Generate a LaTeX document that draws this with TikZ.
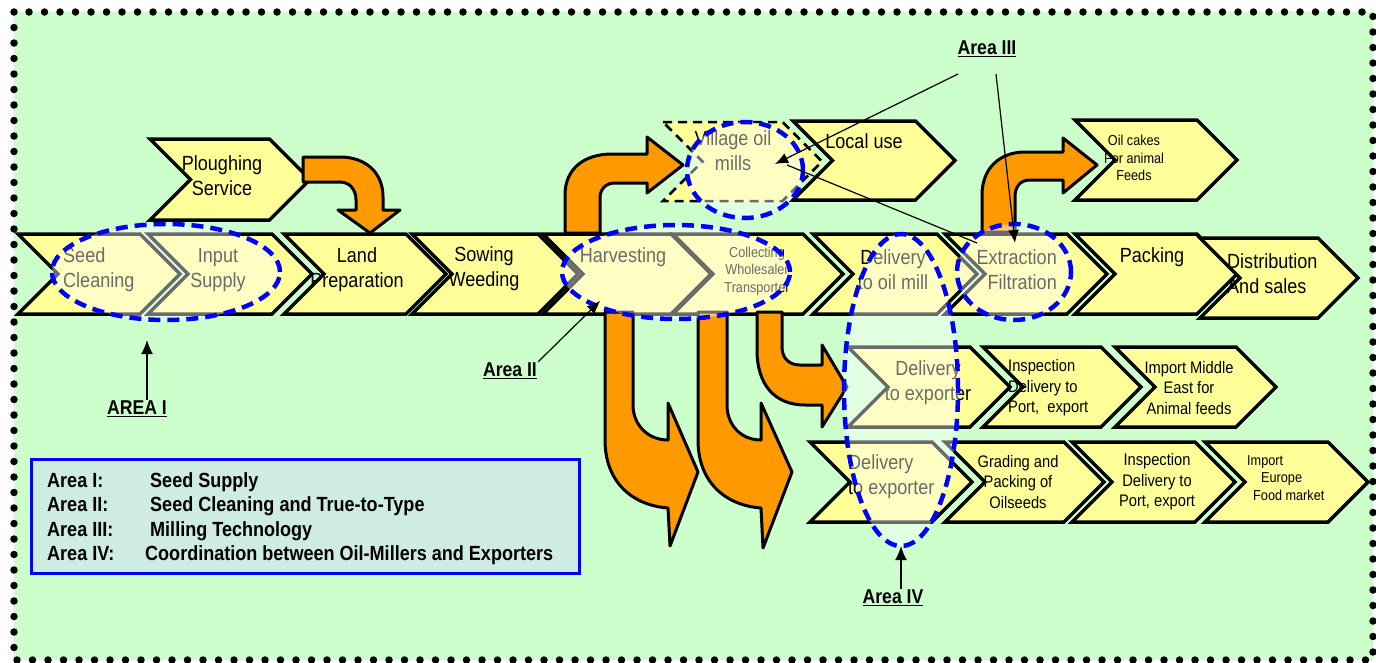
\documentclass[tikz,border=0pt]{standalone}
\usepackage{fontspec}
\setmainfont[FakeStretch=0.88]{Liberation Sans}
\usetikzlibrary{arrows.meta,calc}
\definecolor{bggreen}{RGB}{204,255,204}
\definecolor{chevyellow}{RGB}{255,255,153}
\definecolor{arrorange}{RGB}{255,153,0}
\definecolor{areablue}{RGB}{0,0,255}
\definecolor{legfill}{RGB}{206,236,226}
\newcommand{\chev}[5][]{%
  \pgfmathsetmacro{\chvm}{(#3+#5)/2}%
  \pgfmathsetmacro{\chvd}{(#5-#3)/2}%
  \draw[chev,#1] (#2,#3) -- ({#4-\chvd},#3) -- (#4,\chvm) -- ({#4-\chvd},#5) -- (#2,#5) -- ({#2+\chvd},\chvm) -- cycle;}
\begin{document}
\begin{tikzpicture}[x=1pt,y=-1pt,
  chev/.style={draw=black, line width=3.5pt, fill=chevyellow, line join=miter},
  oarrow/.style={draw=black, line width=3pt, fill=arrorange, line join=round},
  areaell/.style={draw=areablue, line width=4.5pt, dash pattern=on 12pt off 7pt, fill=white, fill opacity=0.42},
  big/.style={font=\fontsize{20.5}{25}\selectfont, align=center, inner sep=0pt},
  mid/.style={font=\fontsize{16.7}{20.5}\selectfont, align=center, inner sep=0pt},
  small/.style={font=\fontsize{14.4}{17.5}\selectfont, align=center, inner sep=0pt},
  lab/.style={font=\bfseries\fontsize{20}{24}\selectfont, inner sep=1pt},
  leg/.style={font=\bfseries\fontsize{20.5}{24.5}\selectfont, anchor=base west, inner sep=0pt},
  arr/.style={draw=black, line width=1.8pt, -{Latex[length=14pt,width=12pt]}},
  thinarr/.style={draw=black, line width=1.2pt, -{Latex[length=13pt,width=11pt]}}]
\useasboundingbox (0,0) rectangle (1376,662);
% background
\fill[bggreen] (14,12) rectangle (1373,660);
\draw[line width=7.5pt, dash pattern=on 0pt off 15.5pt, line cap=round] (14,12) rectangle (1373,660);

% chevrons - top row
\chev{150}{139}{310}{220}
\chev[dash pattern=on 9pt off 6pt, line width=2.5pt]{663}{122}{822}{201}
\chev{793}{121}{955}{200}
\chev{1075}{120}{1237}{200}
% main row
\chev{18}{234}{180}{314}
\chev{148}{234}{312}{314}
\chev{284}{234}{446}{314}
\chev{412}{234}{578}{314}
\chev{543}{234}{711}{314}
\chev{673}{234}{843}{314}
\chev{813}{234}{977}{314}
\chev{945}{234}{1107}{314}
\chev{1075}{234}{1237}{314}
\chev{1200}{238}{1358}{318}
% row 2
\chev{848}{347}{1010}{427}
\chev{983}{347}{1141}{427}
\chev{1115}{347}{1276}{427}
% row 3
\chev{810}{442}{972}{522}
\chev{945}{442}{1104}{522}
\chev{1072}{442}{1235}{522}
\chev{1205}{442}{1368}{522}

% texts
\node[big] (plough) at (222,176) {Ploughing\\Service};
\node[big, align=left, anchor=west] (seedc) at (63,270) {Seed\\Cleaning};
\node[big] (input) at (218,270) {Input\\Supply};
\node[big] (land) at (357,270) {Land\\Preparation};
\node[big] (sow) at (484,269) {Sowing\\Weeding};
\node[big] (harv) at (623,257) {Harvesting};
\node[small] (coll) at (757,271) {Collecting\\Wholesaler\\Transporter};
\node[big] (dmill) at (893,270) {Delivery\\to oil mill};
\node[big, align=right, anchor=east] (extr) at (1057,270) {Extraction\\Filtration};
\node[big] (pack) at (1152,257) {Packing};
\node[big, align=left, anchor=west] (distr) at (1227,274) {Distribution\\And sales};
\node[big] (vill) at (733,151) {Village oil\\mills};
\node[big] (local) at (864,141) {Local use};
\node[small] (cakes) at (1134,158) {Oil cakes\\For animal\\Feeds};
\node[big] (dexp1) at (928,383) {Delivery\\to exporter};
\node[mid, align=left, anchor=west] (insp1) at (1008,388) {Inspection\\Delivery to\\Port,\ \ export};
\node[mid] (impme) at (1189,388) {Import Middle\\East for\\Animal feeds};
\node[big, align=left, anchor=west] (dexp2) at (848,477) {Delivery\\to exporter};
\node[mid] (grad) at (1018,482) {Grading and\\Packing of\\Oilseeds};
\node[mid] (insp2) at (1157,482) {Inspection\\Delivery to\\Port, export};
\node[small, align=left, anchor=west] (impeu) at (1247,478) {Import\\\hspace*{14pt}Europe\\\hspace*{6pt}Food market};

% orange arrows
\draw[oarrow] (303,157) -- (340,157) .. controls (365,157) and (383,172) .. (383,197) -- (383,210) -- (400,210) -- (370,233) -- (338,210) -- (356,210) -- (356,200) .. controls (356,190) and (350,182) .. (340,182) -- (303,182) -- cycle;
\draw[oarrow] (565,233) -- (565,195) .. controls (565,168) and (585,154) .. (612,154) -- (647,154) -- (647,137) -- (683,165) -- (647,193) -- (647,183) -- (615,183) .. controls (605,183) and (600,190) .. (600,198) -- (600,233) -- cycle;
\draw[oarrow] (982,232) -- (982,195) .. controls (982,168) and (1000,152) .. (1025,152) -- (1063,152) -- (1063,138) -- (1097,165) -- (1063,193) -- (1063,180) -- (1030,180) .. controls (1020,180) and (1015,187) .. (1015,197) -- (1015,232) -- cycle;
\draw[oarrow] (605,312) -- (605,440) .. controls (605,480) and (630,505) .. (668,508) -- (670,546) -- (698,472) -- (668,403) -- (668,440) .. controls (648,440) and (633,425) .. (633,405) -- (633,312) -- cycle;
\draw[oarrow] (698,312) -- (698,440) .. controls (698,480) and (723,505) .. (761,508) -- (763,548) -- (792,472) -- (761,403) -- (761,440) .. controls (741,440) and (727,425) .. (727,405) -- (727,312) -- cycle;
\draw[oarrow] (757,312) -- (757,350) .. controls (757,385) and (775,405) .. (805,405) -- (822,405) -- (822,427) -- (847,387) -- (822,345) -- (822,365) -- (800,365) .. controls (789,365) and (782,358) .. (782,347) -- (782,312) -- cycle;

% area ellipses
\draw[areaell] (166,272) ellipse [x radius=114pt, y radius=48pt];
\draw[areaell] (676,272) ellipse [x radius=114pt, y radius=47pt];
\draw[areaell] (745,170) ellipse [x radius=58pt, y radius=48pt];
\draw[areaell] (1014,272) ellipse [x radius=57pt, y radius=48pt];
\draw[areaell] (901,390) ellipse [x radius=57pt, y radius=156pt];

% labels and pointers
\node[lab] (areaI) at (137,409) {\underline{AREA I}};
\node[lab] (areaII) at (510,371) {\underline{Area II}};
\node[lab] (areaIII) at (987,49) {\underline{Area III}};
\node[lab] (areaIV) at (893,598) {\underline{Area IV}};
\coordinate (tI) at (147,340);
\coordinate (tII) at (600,301);
\coordinate (sIIIa) at (958,74);
\coordinate (sIIIb) at (996,74);
\coordinate (tIIIa) at (775,164);
\coordinate (tIIIb) at (1015,243);
\coordinate (tIV) at (901,546);
\coordinate (vA) at (787,165);
\coordinate (eA) at (977,243);
\draw[arr] (tI |- areaI.north) -- (tI);
\draw[thinarr] (areaII.north east) -- (tII);
\draw[thinarr] (sIIIa) -- (tIIIa);
\draw[thinarr] (sIIIb) -- (tIIIb);
\draw[black, line width=1.2pt] (vA) -- (eA);
\draw[arr] (tIV |- areaIV.north) -- (tIV);

% legend
\node[draw=areablue, line width=3pt, fill=legfill, minimum width=548pt, minimum height=114pt, inner sep=0pt, anchor=north west] (legend) at (30,458) {};
\node[leg] (l1a) at (47,487) {Area I:};
\node[leg] (l1b) at (150,487) {Seed Supply};
\node[leg] (l2a) at (47,511) {Area II:};
\node[leg] (l2b) at (150,511) {Seed Cleaning and True-to-Type};
\node[leg] (l3a) at (47,536) {Area III:};
\node[leg] (l3b) at (150,536) {Milling Technology};
\node[leg] (l4a) at (47,560) {Area IV:};
\node[leg] (l4b) at (145,560) {Coordination between Oil-Millers and Exporters};
\end{tikzpicture}
\end{document}
